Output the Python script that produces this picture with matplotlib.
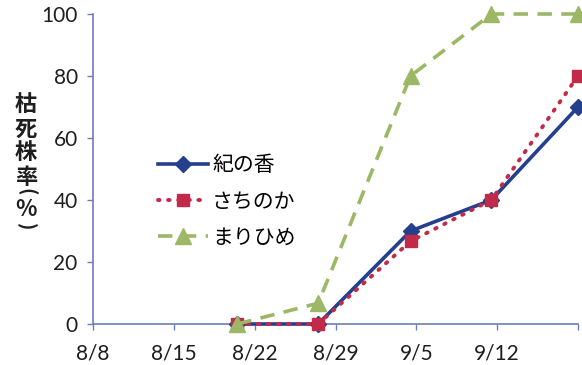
import matplotlib
matplotlib.use("Agg")
import matplotlib.pyplot as plt

# Days counted from 8/8 for each survey
days = [12.5, 19.5, 27.5, 34.5, 42.0]

# Dead-plant rate (%) per cultivar
kinoka = [0, 0, 30, 40, 70]
sachinoka = [0, 0, 26.7, 40, 80]
marihime = [0, 6.7, 80, 100, 100]

series_names = ["紀の香", "さちのか", "まりひめ"]

tick_days = [0, 7, 14, 21, 28, 35, 42]
tick_labels = ["8/8", "8/15", "8/22", "8/29", "9/5", "9/12", ""]
y_ticks = [0, 20, 40, 60, 80, 100]

# Vertical axis title: characters and their rotation (parentheses turned)
ylabel_chars = ["枯", "死", "株", "率", "(", "%", ")"]
ylabel_rot = [0, 0, 0, 0, -90, 0, -90]
ylabel_rows = [104, 129, 153, 177, 192, 210, 227]

plt.rcParams["font.family"] = ["Lato", "Noto Sans CJK JP", "DejaVu Sans"]

W, H, DPI = 582, 365, 100
fig = plt.figure(figsize=(W / DPI, H / DPI), dpi=DPI)
ax = fig.add_axes([93 / W, 1 - 324 / H, (578 - 93) / W, (324 - 14) / H])

blue = "#243f8c"
red = "#c12a48"
green = "#9cb866"
axis_col = "#6b7fb8"

ax.plot(days, kinoka, color=blue, lw=2.6, marker="D", ms=8,
        label=series_names[0], zorder=3, clip_on=False)
ax.plot(days, sachinoka, color=red, lw=2.8, ls=(0, (0.4, 2.2)),
        dash_capstyle="round", marker="s", ms=9, label=series_names[1],
        zorder=4, clip_on=False)
ax.plot(days, marihime, color=green, lw=2.6, ls=(0, (4.0, 2.6)),
        marker="^", ms=11, label=series_names[2], zorder=5, clip_on=False)

ax.set_xlim(0, 42)
ax.set_ylim(0, 100)
ax.set_xticks(tick_days)
ax.set_xticklabels(tick_labels)
ax.set_yticks(y_ticks)

for s in ["top", "right"]:
    ax.spines[s].set_visible(False)
for s in ["left", "bottom"]:
    ax.spines[s].set_color(axis_col)
    ax.spines[s].set_linewidth(1.2)

ax.tick_params(axis="both", colors=axis_col, labelcolor="#1e1e1e",
               labelsize=15, length=4, width=1.0)
ax.tick_params(axis="x", pad=10)
ax.tick_params(axis="y", pad=7)

leg = ax.legend(loc="center left", bbox_to_anchor=(0.134, 0.395),
                frameon=False, borderpad=0, borderaxespad=0,
                handlelength=2.4, handletextpad=0.2, labelspacing=0.68,
                numpoints=1,
                prop={"family": ["Noto Sans CJK JP"], "size": 15})

for ch, rot, yp in zip(ylabel_chars, ylabel_rot, ylabel_rows):
    fig.text(26 / W, 1 - yp / H, ch, ha="center", va="center",
             rotation=rot, rotation_mode="anchor",
             fontsize=16 if rot == 0 else 14, fontweight="bold",
             color="#1e1e1e",
             family=["Noto Sans CJK JP", "DejaVu Sans"])

fig.savefig("out.png", dpi=DPI)
